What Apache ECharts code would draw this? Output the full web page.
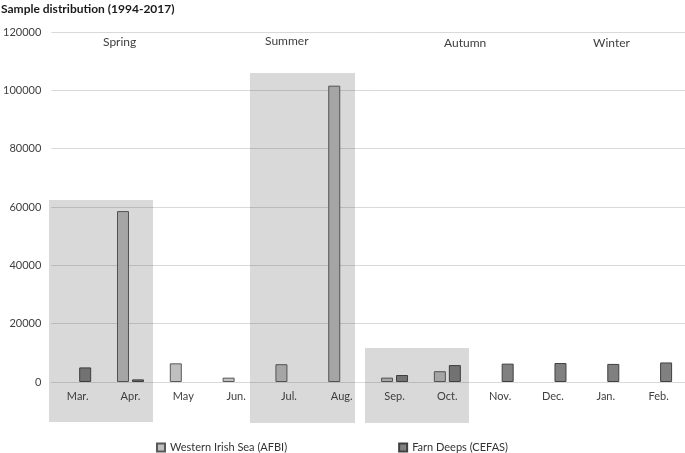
<!DOCTYPE html>
<html><head><meta charset="utf-8">
<script src="https://cdn.jsdelivr.net/npm/echarts@6/dist/echarts.min.js"></script>
<style>html,body{margin:0;padding:0;background:#fff}#c{width:685px;height:453px}</style>
</head><body><div id="c"></div>
<script>
const months = ['Mar.','Apr.','May','Jun.','Jul.','Aug.','Sep.','Oct.','Nov.','Dec.','Jan.','Feb.'];
const western = [null, 58600, 6400, 1500, 6100, 101600, 1500, 3700, null, null, null, null];
const farn = [5000, 900, null, null, null, null, 2400, 5800, 6300, 6500, 6200, 6700];
const seasons = ['Spring','Summer','Autumn','Winter'];
const seriesNames = ['Western Irish Sea (AFBI)','Farn Deeps (CEFAS)'];

const FONT = 'Lato, "Open Sans", sans-serif';
const chart = echarts.init(document.getElementById('c'), null, {renderer:'canvas'});
const seasonPos = [[121,43],[283,42],[462,44],[611,44]];
const shades = [[49,200,104,222],[250,73,105,350],[365,348,104,75]];
const graphics = seasons.map((s,i)=>({type:'text', left: seasonPos[i][0]-18, top: seasonPos[i][1]-7,
  style:{text:s, font:'12px '+FONT, fill:'#404040'}, z:10}));
shades.forEach(r=>graphics.push({type:'rect', shape:{x:r[0],y:r[1],width:r[2],height:r[3]},
  style:{fill:'rgba(52,52,52,0.19)'}, z:100, silent:true}));

chart.setOption({
  animation:false,
  textStyle:{fontFamily:FONT},
  title:{text:'Sample distribution (1994-2017)', left:1, top:3, padding:0,
    textStyle:{fontFamily:FONT, fontSize:12, fontWeight:'bold', color:'#1a1a1a'}},
  grid:{left:51, right:0, top:32, bottom:71, containLabel:false},
  legend:{data:seriesNames, left:151, top:437, icon:'rect', itemWidth:8, itemHeight:8, itemGap:111,
    textStyle:{fontFamily:FONT, fontSize:11, color:'#333333'}},
  xAxis:{type:'category', data:months,
    axisLine:{lineStyle:{color:'#d9d9d9'}}, axisTick:{show:false},
    axisLabel:{color:'#404040', fontSize:11, margin:9}},
  yAxis:{type:'value', min:0, max:120000, interval:20000,
    axisLine:{show:false}, axisTick:{show:false},
    splitLine:{lineStyle:{color:'#d9d9d9'}},
    axisLabel:{color:'#404040', fontSize:11, margin:10, formatter:v=>String(v)}},
  series:[
    {name:seriesNames[0], type:'bar', data:western, barWidth:12, barGap:'25%',
      itemStyle:{color:'#bfbfbf', borderColor:'#595959', borderWidth:1}},
    {name:seriesNames[1], type:'bar', data:farn, barWidth:12, barGap:'25%',
      itemStyle:{color:'#808080', borderColor:'#404040', borderWidth:1}}
  ],
  graphic:graphics
});
</script></body></html>
